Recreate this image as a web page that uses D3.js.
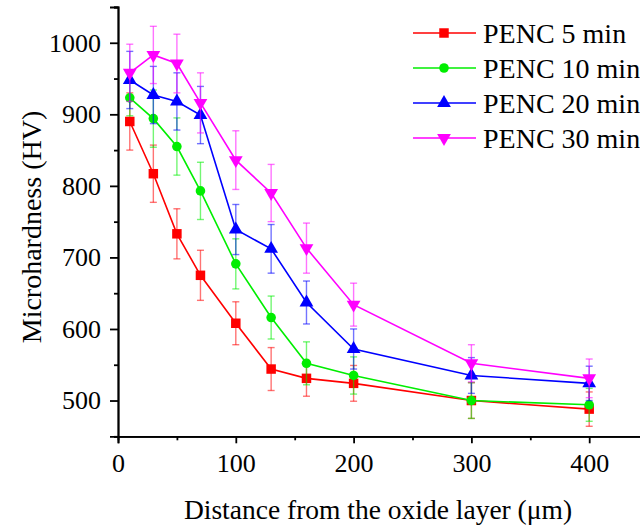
<!DOCTYPE html>
<html><head><meta charset="utf-8">
<script src="https://cdn.jsdelivr.net/npm/d3@7"></script>
<style>html,body{margin:0;padding:0;background:#fff;overflow:hidden}</style>
</head><body>
<svg id="c" width="640" height="528"></svg>
<script>
const distances = [10, 30, 50, 70, 100, 130, 160, 200, 300, 400];
const seriesNames = ["PENC 5 min", "PENC 10 min", "PENC 20 min", "PENC 30 min"];
const penc5 = [890, 817, 733, 675, 608, 544, 531, 524, 500, 488];
const penc10 = [923, 894, 855, 793, 691, 616, 552, 535, 500, 494];
const penc20 = [948, 927, 918, 899, 739, 712, 637, 572, 535, 524];
const penc30 = [958, 983, 971, 916, 836, 790, 713, 634, 552, 531];
const err5 = [40, 40, 35, 35, 30, 30, 25, 25, 25, 24];
const err10 = [25, 40, 40, 40, 35, 30, 30, 26, 25, 23];
const err20 = [40, 40, 40, 40, 35, 34, 30, 28, 25, 24];
const err30 = [40, 40, 41, 42, 41, 40, 35, 30, 26, 27];
const xTicks = [0, 100, 200, 300, 400];
const xMinor = [50, 150, 250, 350, 450];
const yTicks = [500, 600, 700, 800, 900, 1000];
const yMinor = [450, 550, 650, 750, 850, 950, 1050];
const xTitle = "Distance from the oxide layer (\u03bcm)";
const yTitle = "Microhardness (HV)";

const colors = ["#ff0000", "#00ee00", "#0000ff", "#ff00ff"];
const symbols = [d3.symbolSquare, d3.symbolCircle, d3.symbolTriangle, d3.symbolTriangle];
const symSize = [90, 72, 82, 82];
const symRot = [0, 0, 0, 180];
const values = [penc5, penc10, penc20, penc30];
const errs = [err5, err10, err20, err30];

const svg = d3.select("#c");
const font = "'Liberation Serif','Times New Roman',serif";
const x = d3.scaleLinear().domain([0, 450]).range([118, 648.1]);
const y = d3.scaleLinear().domain([450, 1050]).range([436.3, 7]);

// series
values.forEach((vals, si) => {
  const g = svg.append("g");
  const col = colors[si];
  const pts = distances.map((d, i) => ({x: d, v: vals[i], e: errs[si][i]}));
  // error bars
  const eb = g.append("g").attr("stroke", col).attr("stroke-opacity", 0.55).attr("stroke-width", 1.4);
  pts.forEach(p => {
    const cx = x(p.x);
    eb.append("line").attr("x1", cx).attr("x2", cx).attr("y1", y(p.v + p.e)).attr("y2", y(p.v - p.e));
    eb.append("line").attr("x1", cx - 3.5).attr("x2", cx + 3.5).attr("y1", y(p.v + p.e)).attr("y2", y(p.v + p.e));
    eb.append("line").attr("x1", cx - 3.5).attr("x2", cx + 3.5).attr("y1", y(p.v - p.e)).attr("y2", y(p.v - p.e));
  });
  g.append("path").datum(pts)
    .attr("fill", "none").attr("stroke", col).attr("stroke-width", 1.6)
    .attr("d", d3.line().x(p => x(p.x)).y(p => y(p.v)));
  g.selectAll("path.m").data(pts).join("path").attr("class", "m")
    .attr("d", d3.symbol().type(symbols[si]).size(symSize[si]))
    .attr("fill", col)
    .attr("transform", p => `translate(${x(p.x)},${y(p.v)}) rotate(${symRot[si]})`);
});

// axes
function styleAxis(g) {
  g.selectAll(".domain").attr("stroke", "#000").attr("stroke-width", 1.8);
  g.selectAll(".tick line").attr("stroke", "#000").attr("stroke-width", 1.8);
  g.selectAll("text").attr("font-family", font).attr("font-size", 26).attr("fill", "#000");
}
const ax = svg.append("g").attr("transform", "translate(0,436.3)")
  .call(d3.axisBottom(x).tickValues(xTicks).tickSize(7).tickPadding(10).tickFormat(d3.format("d")));
styleAxis(ax);
const axm = svg.append("g").attr("transform", "translate(0,436.3)")
  .call(d3.axisBottom(x).tickValues(xMinor).tickSize(4).tickFormat(""));
styleAxis(axm);
const ay = svg.append("g").attr("transform", "translate(118,0)")
  .call(d3.axisLeft(y).tickValues(yTicks).tickSize(8).tickPadding(9).tickFormat(d3.format("d")));
styleAxis(ay);
const aym = svg.append("g").attr("transform", "translate(118,0)")
  .call(d3.axisLeft(y).tickValues(yMinor).tickSize(4).tickFormat(""));
styleAxis(aym);

svg.append("text").attr("x", 378).attr("y", 519).attr("text-anchor", "middle")
  .attr("font-family", font).attr("font-size", 27.5).text(xTitle);
svg.append("text").attr("transform", "translate(41,227) rotate(-90)").attr("text-anchor", "middle")
  .attr("font-family", font).attr("font-size", 28).text(yTitle);

// legend
const legY = [33, 68, 103, 138];
seriesNames.forEach((name, si) => {
  const lg = svg.append("g").attr("transform", `translate(0,${legY[si]})`);
  lg.append("line").attr("x1", 413).attr("x2", 476).attr("y1", 0).attr("y2", 0)
    .attr("stroke", colors[si]).attr("stroke-width", 1.6);
  lg.append("path").attr("d", d3.symbol().type(symbols[si]).size(symSize[si]))
    .attr("fill", colors[si]).attr("transform", `translate(444,0) rotate(${symRot[si]})`);
  lg.append("text").attr("x", 483).attr("y", 0).attr("dy", "0.35em")
    .attr("font-family", font).attr("font-size", 28).text(name);
});
</script>
</body></html>
